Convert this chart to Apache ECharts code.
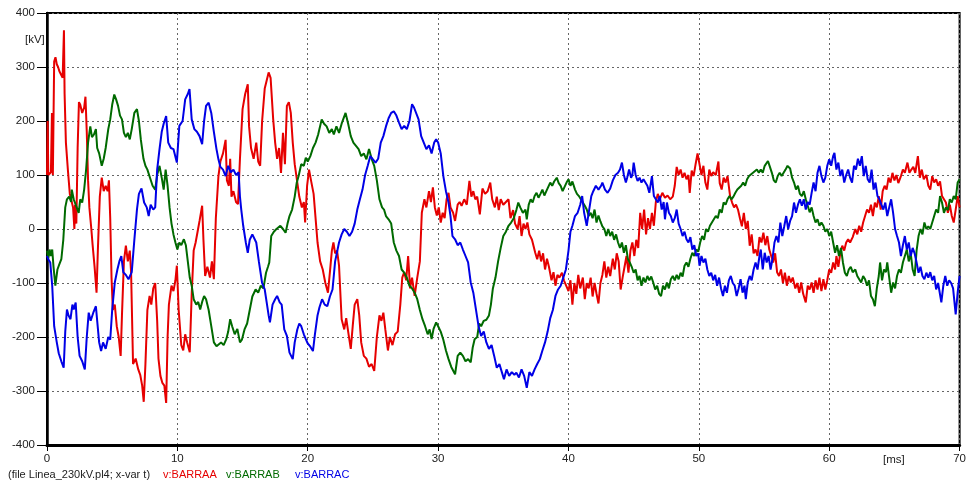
<!DOCTYPE html>
<html>
<head>
<meta charset="utf-8">
<script src="https://cdn.jsdelivr.net/npm/echarts@6/dist/echarts.min.js"></script>
<style>
html,body{margin:0;padding:0;background:#fff;}
#c{width:969px;height:485px;}
</style>
</head>
<body>
<div id="c"></div>
<script>
// ---- data (time in ms, voltage in kV) ----
const xTicks = [0, 10, 20, 30, 40, 50, 60, 70];
const yTicks = [-400, -300, -200, -100, 0, 100, 200, 300, 400];
const seriesNames = ['v:BARRAA', 'v:BARRAB', 'v:BARRAC'];

const barraA = [[0,100],[0.05,200],[0.1,100],[0.2,100],[0.3,105],[0.38,215],[0.45,100],[0.55,310],[0.65,318],[0.75,305],[0.85,300],[0.95,292],[1.1,290],[1.2,280],[1.3,368],[1.35,250],[1.45,160],[1.6,110],[1.75,65],[1.9,50],[2.0,40],[2.1,0],[2.15,45],[2.25,10],[2.35,150],[2.45,235],[2.55,230],[2.7,215],[2.85,225],[2.95,245],[3.05,180],[3.15,90],[3.25,40],[3.4,0],[3.5,-30],[3.65,-70],[3.8,-118],[3.9,-40],[4.05,60],[4.2,95],[4.35,70],[4.5,80],[4.65,70],[4.75,90],[4.85,20],[4.95,-90],[5.05,-150],[5.2,-140],[5.35,-180],[5.5,-200],[5.65,-235],[5.75,-160],[5.9,-60],[6.05,-31],[6.2,-60],[6.35,-40],[6.45,-80],[6.6,-250],[6.8,-240],[7.0,-260],[7.15,-270],[7.3,-290],[7.42,-320],[7.55,-250],[7.7,-150],[7.87,-124],[8.0,-140],[8.15,-110],[8.3,-100],[8.45,-170],[8.55,-240],[8.7,-272],[8.85,-285],[9.0,-290],[9.14,-322],[9.25,-200],[9.35,-140],[9.55,-105],[9.7,-115],[9.85,-95],[9.96,-68],[10.1,-150],[10.3,-215],[10.45,-225],[10.6,-195],[10.75,-210],[10.95,-228],[11.1,-120],[11.25,-40],[11.4,-25],[11.55,-5],[11.7,15],[11.9,43],[12.0,-20],[12.13,-87],[12.3,-70],[12.5,-90],[12.65,-60],[12.8,-93],[12.95,20],[13.15,98],[13.3,125],[13.5,140],[13.7,165],[13.8,90],[13.95,80],[14.05,130],[14.15,60],[14.3,70],[14.5,50],[14.65,46],[14.8,130],[15.0,222],[15.2,250],[15.4,268],[15.5,190],[15.65,150],[15.85,130],[16.05,160],[16.2,125],[16.35,117],[16.5,200],[16.7,260],[16.85,275],[17.0,290],[17.15,280],[17.35,203],[17.5,160],[17.65,130],[17.8,150],[17.95,104],[18.1,178],[18.25,120],[18.4,228],[18.55,235],[18.7,215],[18.85,160],[19.0,120],[19.2,86],[19.35,60],[19.55,40],[19.7,50],[19.8,12],[19.95,80],[20.1,110],[20.25,90],[20.45,65],[20.6,20],[20.75,-25],[20.95,-60],[21.15,-75],[21.35,-100],[21.55,-118],[21.7,-80],[21.85,-40],[21.97,-25],[22.1,-45],[22.25,-40],[22.4,-68],[22.6,-167],[22.8,-186],[22.95,-165],[23.1,-190],[23.3,-222],[23.45,-180],[23.6,-140],[23.8,-130],[23.95,-160],[24.1,-210],[24.3,-235],[24.5,-240],[24.7,-255],[24.9,-250],[25.1,-263],[25.3,-200],[25.5,-160],[25.65,-170],[25.8,-155],[25.95,-186],[26.15,-225],[26.3,-200],[26.5,-215],[26.7,-195],[26.9,-190],[27.1,-140],[27.25,-90],[27.4,-80],[27.55,-95],[27.7,-50],[27.85,-110],[28.0,-90],[28.2,-124],[28.4,-90],[28.6,-60],[28.75,30],[28.95,55],[29.1,40],[29.3,70],[29.45,50],[29.6,77],[29.75,40],[29.9,25],[30.05,40],[30.2,12],[30.35,30],[30.5,20],[30.65,55],[30.8,67],[30.95,40],[31.15,30],[31.3,15],[31.5,45],[31.65,50],[31.8,43],[32.0,55],[32.2,45],[32.4,89],[32.55,60],[32.7,70],[32.85,55],[33.0,60],[33.2,27],[33.4,75],[33.6,65],[33.8,70],[34.0,86],[34.15,55],[34.35,40],[34.5,60],[34.65,35],[34.8,55],[35.0,45],[35.2,50],[35.4,55],[35.55,20],[35.75,35],[35.9,10],[36.1,0],[36.25,24],[36.4,-13],[36.55,10],[36.7,0],[36.85,12],[37.0,-10],[37.2,-20],[37.45,-44],[37.6,-56],[37.75,-40],[37.9,-60],[38.05,-45],[38.2,-75],[38.35,-55],[38.5,-70],[38.7,-95],[38.85,-80],[39.0,-105],[39.15,-85],[39.3,-90],[39.5,-81],[39.65,-95],[39.8,-93],[40.0,-115],[40.15,-95],[40.3,-140],[40.45,-100],[40.6,-120],[40.75,-85],[40.9,-110],[41.1,-90],[41.25,-130],[41.4,-100],[41.55,-110],[41.7,-90],[41.85,-125],[42.0,-100],[42.15,-120],[42.3,-138],[42.45,-100],[42.6,-85],[42.75,-60],[42.9,-90],[43.05,-70],[43.2,-87],[43.4,-55],[43.55,-75],[43.7,-45],[43.85,-60],[44.0,-112],[44.15,-90],[44.3,-70],[44.45,-50],[44.6,-81],[44.75,-40],[44.9,-25],[45.05,-50],[45.2,-20],[45.35,-35],[45.5,30],[45.65,0],[45.8,36],[45.95,-10],[46.1,20],[46.25,0],[46.4,30],[46.55,6],[46.7,50],[46.85,65],[47.0,55],[47.2,67],[47.4,58],[47.6,62],[47.8,55],[48.0,60],[48.15,80],[48.3,115],[48.45,100],[48.6,110],[48.75,95],[48.9,104],[49.05,92],[49.2,100],[49.3,67],[49.45,108],[49.6,98],[49.75,120],[49.9,140],[50.05,120],[50.2,100],[50.35,117],[50.5,86],[50.65,73],[50.8,110],[50.95,98],[51.1,105],[51.3,100],[51.5,125],[51.6,85],[51.75,73],[51.9,95],[52.05,86],[52.2,98],[52.4,60],[52.55,49],[52.7,40],[52.85,45],[53.0,36],[53.15,20],[53.3,5],[53.45,30],[53.6,0],[53.75,15],[53.9,-31],[54.05,-10],[54.2,-45],[54.35,-38],[54.5,-50],[54.65,-15],[54.8,-25],[54.95,-7],[55.1,-30],[55.25,-13],[55.4,-38],[55.55,-50],[55.7,-62],[55.85,-45],[56.0,-80],[56.15,-87],[56.3,-75],[56.45,-100],[56.6,-81],[56.75,-105],[56.9,-87],[57.05,-99],[57.2,-90],[57.4,-110],[57.55,-100],[57.7,-118],[57.85,-99],[58.0,-120],[58.2,-136],[58.35,-105],[58.5,-112],[58.65,-99],[58.8,-118],[58.95,-95],[59.1,-112],[59.25,-90],[59.4,-115],[59.55,-93],[59.7,-112],[59.85,-95],[60.0,-75],[60.15,-81],[60.3,-62],[60.45,-75],[60.55,-50],[60.7,-70],[60.85,-44],[61.0,-31],[61.15,-40],[61.3,-25],[61.45,-19],[61.6,-25],[61.8,-15],[62.0,0],[62.15,-10],[62.3,6],[62.45,-5],[62.6,12],[62.75,24],[62.9,36],[63.05,30],[63.2,45],[63.35,24],[63.5,49],[63.65,40],[63.8,61],[63.95,36],[64.1,70],[64.25,80],[64.4,73],[64.55,95],[64.7,86],[64.85,104],[65.0,90],[65.15,100],[65.3,85],[65.5,98],[65.65,110],[65.8,104],[66.0,123],[66.15,104],[66.3,110],[66.45,115],[66.6,104],[66.8,135],[66.95,95],[67.1,110],[67.25,92],[67.45,100],[67.6,80],[67.75,73],[67.9,98],[68.05,86],[68.2,92],[68.35,80],[68.5,88],[68.65,61],[68.8,55],[68.95,49],[69.1,30],[69.25,45],[69.4,24],[69.55,12],[69.7,36],[69.85,61],[70.0,40]];

const barraB = [[0,-40],[0.1,-55],[0.2,-38],[0.3,-50],[0.4,-38],[0.5,-70],[0.64,-105],[0.8,-75],[0.95,-65],[1.1,-56],[1.25,-20],[1.4,40],[1.53,55],[1.7,60],[1.85,50],[1.9,73],[2.05,55],[2.2,45],[2.43,30],[2.55,55],[2.7,49],[2.85,73],[3.0,110],[3.15,160],[3.32,190],[3.45,170],[3.6,175],[3.75,185],[3.85,150],[4.0,140],[4.2,117],[4.35,130],[4.5,150],[4.7,185],[4.85,203],[5.0,230],[5.16,249],[5.3,240],[5.45,228],[5.6,210],[5.75,203],[5.9,178],[6.05,170],[6.2,178],[6.35,166],[6.5,185],[6.7,215],[6.9,222],[7.05,200],[7.2,165],[7.4,130],[7.55,117],[7.7,110],[7.9,95],[8.1,80],[8.3,73],[8.45,100],[8.63,117],[8.8,95],[8.95,73],[9.1,110],[9.25,80],[9.4,40],[9.55,10],[9.7,-10],[9.85,-25],[10.0,-38],[10.15,-25],[10.3,-30],[10.5,-19],[10.65,-30],[10.8,-60],[10.95,-90],[11.1,-105],[11.25,-130],[11.45,-140],[11.6,-135],[11.75,-149],[11.9,-135],[12.05,-124],[12.2,-130],[12.4,-150],[12.6,-180],[12.8,-210],[13.0,-217],[13.15,-220],[13.35,-210],[13.55,-215],[13.75,-204],[13.9,-190],[14.05,-167],[14.2,-180],[14.4,-195],[14.6,-185],[14.8,-210],[14.95,-205],[15.15,-186],[15.35,-175],[15.55,-150],[15.75,-125],[16.0,-112],[16.2,-118],[16.4,-105],[16.6,-110],[16.8,-81],[16.95,-70],[17.05,-62],[17.2,-13],[17.4,-5],[17.6,0],[17.9,6],[18.1,0],[18.3,-7],[18.45,10],[18.6,24],[18.8,36],[19.0,60],[19.15,85],[19.3,98],[19.5,120],[19.7,117],[19.85,132],[20.0,125],[20.2,135],[20.4,150],[20.6,160],[20.8,175],[21.07,203],[21.25,195],[21.45,190],[21.65,178],[21.85,185],[22.0,175],[22.2,190],[22.4,178],[22.6,195],[22.9,215],[23.1,195],[23.3,172],[23.5,160],[23.7,154],[23.9,148],[24.1,135],[24.3,140],[24.5,129],[24.7,148],[24.9,130],[25.1,117],[25.3,90],[25.5,55],[25.7,40],[25.85,36],[26.0,24],[26.2,18],[26.4,10],[26.6,-25],[26.8,-40],[27.0,-50],[27.2,-75],[27.4,-81],[27.6,-90],[27.8,-105],[28.0,-110],[28.2,-118],[28.4,-130],[28.6,-150],[28.8,-167],[29.0,-180],[29.2,-195],[29.35,-186],[29.5,-204],[29.65,-185],[29.85,-173],[30.0,-180],[30.2,-190],[30.4,-205],[30.6,-225],[30.8,-241],[31.0,-255],[31.3,-269],[31.5,-235],[31.7,-229],[31.9,-235],[32.1,-245],[32.3,-241],[32.5,-247],[32.65,-220],[32.8,-204],[33.0,-200],[33.15,-175],[33.3,-180],[33.5,-170],[33.7,-168],[33.9,-160],[34.05,-140],[34.2,-110],[34.4,-90],[34.6,-60],[34.8,-35],[35.0,-13],[35.2,-5],[35.4,6],[35.6,12],[35.8,20],[36.0,35],[36.15,49],[36.3,40],[36.5,30],[36.7,36],[36.8,18],[36.95,45],[37.1,55],[37.25,49],[37.4,61],[37.55,67],[37.7,58],[37.85,65],[38.0,73],[38.15,62],[38.3,70],[38.45,78],[38.6,86],[38.75,80],[38.9,88],[39.1,95],[39.25,85],[39.4,80],[39.55,70],[39.7,78],[39.85,86],[40.0,92],[40.15,80],[40.3,88],[40.5,73],[40.65,65],[40.8,61],[40.95,55],[41.1,49],[41.25,43],[41.4,36],[41.55,24],[41.7,30],[41.85,20],[42.0,36],[42.15,12],[42.3,25],[42.45,14],[42.6,5],[42.75,0],[42.9,-13],[43.05,0],[43.2,-13],[43.35,-5],[43.5,-20],[43.65,-10],[43.8,-25],[43.95,-35],[44.1,-25],[44.25,-44],[44.4,-30],[44.55,-55],[44.7,-62],[44.85,-70],[45.0,-81],[45.15,-75],[45.3,-95],[45.45,-87],[45.6,-105],[45.75,-90],[45.9,-99],[46.05,-87],[46.2,-95],[46.35,-88],[46.5,-99],[46.65,-112],[46.8,-105],[46.95,-120],[47.1,-124],[47.25,-105],[47.4,-112],[47.55,-99],[47.7,-110],[47.85,-93],[48.0,-87],[48.15,-95],[48.3,-85],[48.45,-93],[48.6,-81],[48.75,-88],[48.9,-68],[49.05,-62],[49.2,-70],[49.35,-55],[49.5,-44],[49.65,-50],[49.8,-38],[49.95,-42],[50.1,-25],[50.25,-13],[50.4,-20],[50.55,0],[50.7,-5],[50.85,6],[51.0,12],[51.15,18],[51.3,24],[51.45,20],[51.6,36],[51.75,30],[51.9,49],[52.05,45],[52.2,55],[52.35,61],[52.5,55],[52.65,60],[52.8,67],[52.95,73],[53.1,70],[53.25,80],[53.4,86],[53.55,80],[53.7,92],[53.85,98],[54.0,95],[54.15,104],[54.3,101],[54.45,110],[54.6,104],[54.75,110],[54.9,104],[55.05,117],[55.2,120],[55.3,126],[55.45,115],[55.6,104],[55.75,90],[55.9,86],[56.05,98],[56.2,104],[56.35,98],[56.5,100],[56.65,110],[56.8,117],[57.0,112],[57.15,95],[57.3,86],[57.45,73],[57.6,80],[57.75,65],[57.9,61],[58.05,70],[58.2,55],[58.35,43],[58.5,31],[58.65,40],[58.8,24],[58.95,12],[59.1,18],[59.25,6],[59.4,12],[59.55,6],[59.7,-5],[59.85,0],[60.0,-13],[60.15,-5],[60.3,-25],[60.45,-44],[60.6,-30],[60.75,-50],[60.9,-35],[61.05,-62],[61.2,-81],[61.35,-87],[61.5,-75],[61.65,-70],[61.8,-80],[62.0,-75],[62.15,-87],[62.3,-93],[62.45,-99],[62.6,-87],[62.75,-93],[62.9,-105],[63.05,-95],[63.2,-124],[63.35,-130],[63.5,-143],[63.65,-110],[63.8,-87],[63.9,-62],[64.05,-95],[64.2,-75],[64.35,-80],[64.45,-62],[64.6,-90],[64.75,-118],[64.9,-99],[65.05,-110],[65.2,-87],[65.35,-75],[65.5,-81],[65.65,-62],[65.8,-50],[65.95,-38],[66.1,-60],[66.25,-45],[66.4,-75],[66.55,-87],[66.7,-40],[66.85,-13],[67.0,0],[67.15,-10],[67.3,12],[67.45,0],[67.6,5],[67.75,0],[67.9,12],[68.05,24],[68.2,36],[68.35,30],[68.5,61],[68.65,49],[68.8,30],[68.95,40],[69.1,35],[69.25,55],[69.4,49],[69.55,61],[69.7,55],[69.85,86],[70.0,92]];

const barraC = [[0,-50],[0.1,-56],[0.25,-62],[0.4,-105],[0.55,-180],[0.75,-210],[0.9,-230],[1.1,-245],[1.28,-257],[1.4,-190],[1.53,-149],[1.65,-160],[1.8,-167],[1.95,-140],[2.05,-149],[2.2,-136],[2.35,-200],[2.5,-235],[2.7,-245],[2.9,-260],[3.05,-200],[3.2,-155],[3.35,-170],[3.55,-155],[3.75,-143],[3.85,-170],[4.0,-210],[4.15,-226],[4.3,-210],[4.5,-222],[4.7,-200],[4.85,-205],[5.0,-150],[5.2,-99],[5.4,-75],[5.55,-60],[5.7,-50],[5.85,-80],[6.05,-85],[6.25,-93],[6.5,-80],[6.7,-20],[6.9,36],[7.05,65],[7.25,75],[7.45,49],[7.65,40],[7.8,24],[7.95,45],[8.15,36],[8.3,40],[8.45,110],[8.63,148],[8.8,180],[8.95,195],[9.14,209],[9.3,160],[9.5,150],[9.7,148],[9.96,123],[10.15,191],[10.4,200],[10.6,240],[10.8,250],[10.93,259],[11.1,203],[11.3,185],[11.5,180],[11.7,172],[11.9,157],[12.05,200],[12.2,228],[12.4,234],[12.6,215],[12.8,180],[13.0,148],[13.15,129],[13.3,115],[13.5,110],[13.7,98],[13.9,117],[14.1,105],[14.3,110],[14.5,100],[14.7,105],[14.8,60],[14.9,36],[15.05,6],[15.25,-25],[15.4,-44],[15.55,-20],[15.75,-10],[15.9,-7],[16.05,-25],[16.25,-60],[16.5,-100],[16.7,-112],[16.85,-136],[17.0,-160],[17.1,-173],[17.3,-140],[17.5,-130],[17.65,-124],[17.85,-136],[18.0,-140],[18.2,-186],[18.4,-198],[18.6,-229],[18.85,-241],[19.0,-210],[19.2,-186],[19.35,-175],[19.5,-180],[19.7,-195],[19.85,-204],[20.0,-212],[20.2,-218],[20.4,-226],[20.55,-195],[20.75,-160],[20.9,-145],[21.1,-130],[21.3,-140],[21.5,-143],[21.7,-125],[21.9,-112],[22.1,-60],[22.4,-25],[22.6,-10],[22.8,0],[23.0,-5],[23.2,-13],[23.4,-5],[23.6,10],[23.8,36],[24.0,55],[24.2,73],[24.4,100],[24.6,117],[24.8,135],[25.0,129],[25.2,123],[25.4,130],[25.6,160],[25.8,172],[26.0,190],[26.2,205],[26.4,215],[26.6,218],[26.8,210],[27.0,197],[27.2,185],[27.4,191],[27.6,185],[27.8,200],[28.0,231],[28.15,225],[28.3,222],[28.5,203],[28.7,172],[28.9,160],[29.1,148],[29.3,155],[29.5,140],[29.7,160],[29.85,166],[30.0,160],[30.2,140],[30.4,98],[30.6,70],[30.8,49],[30.95,24],[31.1,-13],[31.3,-19],[31.5,-30],[31.7,-25],[31.9,-38],[32.1,-50],[32.3,-62],[32.5,-99],[32.7,-118],[32.9,-149],[33.1,-180],[33.3,-198],[33.5,-190],[33.7,-210],[33.9,-222],[34.1,-215],[34.3,-235],[34.5,-257],[34.7,-250],[34.9,-266],[35.05,-278],[35.25,-260],[35.45,-272],[35.65,-265],[35.85,-270],[36.0,-266],[36.2,-275],[36.4,-260],[36.6,-272],[36.8,-294],[37.0,-265],[37.2,-272],[37.4,-260],[37.6,-250],[37.8,-241],[38.0,-225],[38.2,-210],[38.4,-190],[38.6,-165],[38.8,-150],[39.0,-124],[39.2,-112],[39.4,-105],[39.6,-90],[39.8,-75],[40.0,-40],[40.15,-5],[40.3,6],[40.5,24],[40.7,30],[40.9,45],[41.05,61],[41.2,30],[41.4,6],[41.55,30],[41.75,61],[41.9,70],[42.1,80],[42.3,73],[42.5,80],[42.6,86],[42.8,73],[43.0,67],[43.2,75],[43.4,90],[43.6,100],[43.8,104],[43.95,110],[44.1,123],[44.25,100],[44.4,86],[44.5,95],[44.65,110],[44.8,95],[44.9,100],[45.0,123],[45.15,100],[45.3,89],[45.45,95],[45.6,86],[45.75,92],[45.9,86],[46.05,80],[46.2,67],[46.4,98],[46.55,61],[46.7,55],[46.85,49],[47.0,61],[47.15,36],[47.3,50],[47.4,18],[47.55,49],[47.7,30],[47.85,24],[48.0,12],[48.15,20],[48.3,36],[48.45,10],[48.6,0],[48.75,-13],[48.9,-5],[49.05,-19],[49.2,-25],[49.35,-15],[49.5,-38],[49.65,-30],[49.8,-50],[49.95,-45],[50.05,-68],[50.2,-50],[50.35,-62],[50.5,-55],[50.65,-75],[50.8,-87],[50.95,-81],[51.1,-95],[51.25,-85],[51.4,-105],[51.55,-90],[51.7,-110],[51.85,-124],[52.0,-105],[52.15,-118],[52.3,-95],[52.45,-87],[52.6,-100],[52.75,-105],[52.9,-124],[53.05,-110],[53.2,-93],[53.35,-118],[53.5,-105],[53.6,-130],[53.75,-99],[53.9,-87],[54.05,-95],[54.2,-75],[54.35,-62],[54.5,-75],[54.65,-50],[54.75,-38],[54.9,-75],[55.05,-44],[55.2,-62],[55.35,-50],[55.5,-75],[55.65,-55],[55.8,-25],[55.95,-13],[56.1,-25],[56.25,12],[56.4,-13],[56.55,5],[56.7,24],[56.85,0],[57.0,15],[57.15,24],[57.3,49],[57.45,30],[57.6,45],[57.75,55],[57.9,43],[58.05,55],[58.2,36],[58.35,50],[58.5,45],[58.65,67],[58.8,86],[58.95,70],[59.1,104],[59.25,117],[59.4,98],[59.55,86],[59.7,95],[59.85,117],[60.0,129],[60.15,117],[60.3,135],[60.4,141],[60.55,110],[60.7,123],[60.85,98],[61.0,110],[61.15,86],[61.3,100],[61.45,110],[61.6,95],[61.75,86],[61.9,117],[62.05,110],[62.2,130],[62.35,117],[62.5,135],[62.65,98],[62.8,117],[62.95,92],[63.1,86],[63.25,110],[63.4,73],[63.55,86],[63.7,61],[63.85,55],[64.0,45],[64.15,36],[64.3,49],[64.45,24],[64.6,40],[64.75,55],[64.9,30],[65.05,0],[65.2,-13],[65.35,-25],[65.5,-50],[65.65,-30],[65.8,-13],[65.95,-38],[66.1,-25],[66.25,-50],[66.4,-35],[66.55,-45],[66.7,-62],[66.85,-81],[67.0,-70],[67.15,-87],[67.3,-93],[67.45,-81],[67.6,-90],[67.75,-80],[67.9,-95],[68.05,-87],[68.2,-112],[68.35,-100],[68.5,-99],[68.6,-136],[68.75,-105],[68.9,-87],[69.05,-105],[69.2,-95],[69.35,-100],[69.5,-110],[69.7,-158],[69.85,-118],[70.0,-87]];

const colors = ['#e60000', '#006a00', '#0000e6'];
const FONT = 'Liberation Sans, Arial, sans-serif';

const chart = echarts.init(document.getElementById('c'), null, {renderer: 'canvas'});
const grid = {left: 47, right: 9, top: 13, bottom: 40};

function lineSeries(name, data, color) {
  return {
    name: name, type: 'line', data: data, showSymbol: false, symbol: 'none',
    lineStyle: {color: color, width: 2}, z: 3, animation: false
  };
}

chart.setOption({
  animation: false,
  backgroundColor: '#ffffff',
  grid: Object.assign({show: true, borderColor: '#000', borderWidth: 2, backgroundColor: 'transparent'}, grid),
  xAxis: {
    type: 'value', min: xTicks[0], max: xTicks[xTicks.length - 1], interval: 10,
    axisLine: {show: true, onZero: false, lineStyle: {color: '#000', width: 3}},
    axisTick: {show: true, length: 6, lineStyle: {color: '#000', width: 1}},
    axisLabel: {color: '#222', fontFamily: FONT, fontSize: 11.5, margin: 8},
    splitLine: {show: true, lineStyle: {color: '#666', width: 1, type: [2, 3]}}
  },
  yAxis: {
    type: 'value', min: yTicks[0], max: yTicks[yTicks.length - 1], interval: 100,
    axisLine: {show: true, onZero: false, lineStyle: {color: '#000', width: 2.5}},
    axisTick: {show: true, length: 10, lineStyle: {color: '#000', width: 1}},
    axisLabel: {color: '#222', fontFamily: FONT, fontSize: 11.5, margin: 12},
    splitLine: {show: true, lineStyle: {color: '#666', width: 1, type: [2, 3]}}
  },
  series: [
    lineSeries(seriesNames[0], barraA, colors[0]),
    lineSeries(seriesNames[1], barraB, colors[1]),
    lineSeries(seriesNames[2], barraC, colors[2])
  ],
  graphic: [
    {type: 'text', left: 25, top: 34, style: {text: '[kV]', fill: '#222', font: '11.5px ' + FONT}},
    {type: 'text', left: 883, top: 454, style: {text: '[ms]', fill: '#222', font: '11.5px ' + FONT}},
    {type: 'text', left: 8, top: 469, style: {text: '(file Linea_230kV.pl4; x-var t)', fill: '#222', font: '11px ' + FONT}},
    {type: 'text', left: 163, top: 469, style: {text: seriesNames[0], fill: colors[0], font: '11px ' + FONT}},
    {type: 'text', left: 226, top: 469, style: {text: seriesNames[1], fill: colors[1], font: '11px ' + FONT}},
    {type: 'text', left: 295, top: 469, style: {text: seriesNames[2], fill: colors[2], font: '11px ' + FONT}}
  ]
});
</script>
</body>
</html>
